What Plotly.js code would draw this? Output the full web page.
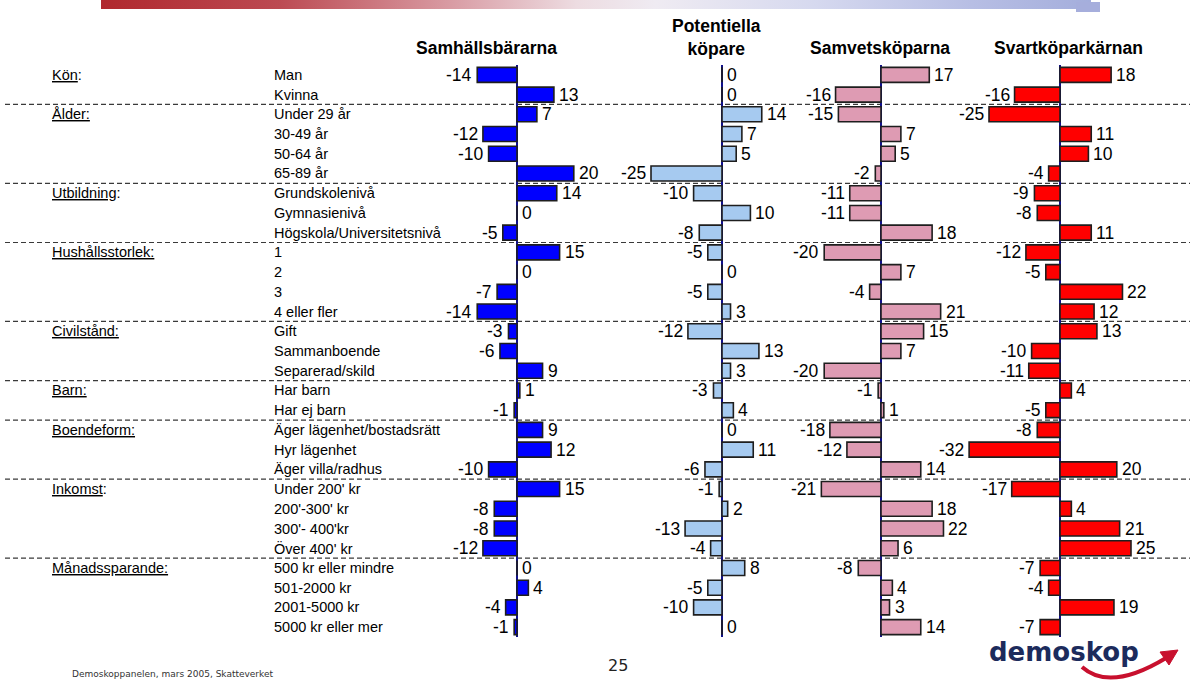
<!DOCTYPE html>
<html>
<head>
<meta charset="utf-8">
<script src="https://cdn.plot.ly/plotly-3.0.1.min.js"></script>
<style>
  html, body { margin:0; padding:0; background:#fff; }
  #wrap { position:relative; width:1190px; height:680px; overflow:hidden; }
  #chart { position:absolute; left:0; top:0; width:1190px; height:680px; }
  #band { position:absolute; left:101px; top:0; width:990px; height:9px;
    background:linear-gradient(to right,#B0282E 0%,#BC4A52 18%,#D89AA2 35%,#EDDCE1 48%,#EFEBF2 56%,#D6D9EF 72%,#B7BEE4 88%,#A4AEDC 100%); }
  #sq { position:absolute; left:1076px; top:2px; width:24px; height:10px; background:#A6AEDC; }
</style>
</head>
<body>
<div id="wrap">
  <div id="chart"></div>
  <div id="band"></div>
  <div id="sq"></div>
</div>
<script>
// ---- data ----
const categories = [
  "Man","Kvinna",
  "Under 29 år","30-49 år","50-64 år","65-89 år",
  "Grundskolenivå","Gymnasienivå","Högskola/Universitetsnivå",
  "1","2","3","4 eller fler",
  "Gift","Sammanboende","Separerad/skild",
  "Har barn","Har ej barn",
  "Äger lägenhet/bostadsrätt","Hyr lägenhet","Äger villa/radhus",
  "Under 200' kr","200'-300' kr","300'- 400'kr","Över 400' kr",
  "500 kr eller mindre","501-2000 kr","2001-5000 kr","5000 kr eller mer"
];
const groupLabels = ["<u>Kön</u>:","<u>Ålder:</u>","<u>Utbildning</u>:","<u>Hushållsstorlek:</u>","<u>Civilstånd:</u>","<u>Barn:</u>","<u>Boendeform:</u>","<u>Inkomst</u>:","<u>Månadssparande:</u>"];
const groupSizes = [2,4,3,4,3,2,3,4,4];
const panelTitles = ["Samhällsbärarna","Potentiella<br>köpare","Samvetsköparna","Svartköparkärnan"];

const samhallsbararna  = [-14,13, 7,-12,-10,20, 14,0,-5, 15,0,-7,-14, -3,-6,9, 1,-1, 9,12,-10, 15,-8,-8,-12, 0,4,-4,-1];
const potentiella      = [0,0, 14,7,5,-25, -10,10,-8, -5,0,-5,3, -12,13,3, -3,4, 0,11,-6, -1,2,-13,-4, 8,-5,-10,0];
const samvetskoparna   = [17,-16, -15,7,5,-2, -11,-11,18, -20,7,-4,21, 15,7,-20, -1,1, -18,-12,14, -21,18,22,6, -8,4,3,14];
const svartkoparkarnan = [18,-16, -25,11,10,-4, -9,-8,11, -12,-5,22,12, 13,-10,-11, 4,-5, -8,-32,20, -17,4,21,25, -7,-4,19,-7];

const series = [samhallsbararna, potentiella, samvetskoparna, svartkoparkarnan];
const barColors = ["#0000FF","#A6CAF0","#DE9BB3","#FF0000"];

// ---- layout geometry ----
const W = 1190, H = 680, MT = 65, MB = 43;
const px = x => x / W;
const py = y => (H - MB - y) / (H - MT - MB);
const K = 2.84;                      // pixels per unit
const zeros = [517, 722, 881, 1060]; // pixel of zero line per panel
const ranges = [[-16,22],[-27,15],[-22,23],[-33,26]];
const titleX = [486, 716, 880, 1068];

const FONT = "Liberation Sans, Arial, sans-serif";
const idx = categories.map((_, i) => i);

const traces = [];
const layout = {
  width: W, height: H,
  margin: {l:0, r:0, t:MT, b:MB, pad:0},
  paper_bgcolor: "#ffffff", plot_bgcolor: "rgba(0,0,0,0)",
  showlegend: false, barmode: "overlay",
  font: {family: FONT, color: "#000"},
  yaxis: {range: [categories.length - 0.5, -0.5], showticklabels: false, showgrid: false,
          zeroline: false, showline: false, ticks: "", domain: [0,1], fixedrange: true},
  annotations: [], shapes: []
};

series.forEach((vals, p) => {
  const xa = p === 0 ? "x" : "x" + (p + 1);
  const key = p === 0 ? "xaxis" : "xaxis" + (p + 1);
  const [lo, hi] = ranges[p];
  layout[key] = {
    domain: [px(zeros[p] + lo * K), px(zeros[p] + hi * K)],
    range: [lo, hi], anchor: "y",
    showgrid: false, showticklabels: false, ticks: "", showline: false,
    zeroline: true, zerolinecolor: "#10108A", zerolinewidth: 2, fixedrange: true
  };
  traces.push({
    type: "bar", orientation: "h", x: vals, y: idx, xaxis: xa, yaxis: "y",
    width: 0.76, cliponaxis: false, hoverinfo: "skip",
    marker: {color: barColors[p], line: {color: "#1e1e1e", width: 1.6}}
  });
  // value labels just beyond the bar ends
  vals.forEach((v, i) => {
    layout.annotations.push({
      xref: xa, yref: "y", x: v, y: i,
      xanchor: v < 0 ? "right" : "left", yanchor: "middle",
      xshift: v < 0 ? -3 : 3, showarrow: false, text: String(v),
      font: {family: FONT, size: 17.5, color: "#000"}
    });
  });
  layout.annotations.push({
    xref: "paper", yref: "paper", x: px(titleX[p]), y: py(p === 1 ? 37 : 48),
    xanchor: "center", yanchor: "middle", showarrow: false,
    text: "<b>" + panelTitles[p] + "</b>",
    font: {family: FONT, size: 17.5, color: "#000"}
  });
});

// category labels
categories.forEach((c, i) => {
  layout.annotations.push({
    xref: "paper", yref: "y", x: px(272), y: i, xanchor: "left", yanchor: "middle",
    showarrow: false, text: c, font: {family: FONT, size: 14.5, color: "#000"}
  });
});

// group labels + dashed separators
let start = 0;
groupSizes.forEach((n, g) => {
  layout.annotations.push({
    xref: "paper", yref: "y", x: px(50), y: start, xanchor: "left", yanchor: "middle",
    showarrow: false, text: groupLabels[g], font: {family: FONT, size: 14.5, color: "#000"}
  });
  if (g > 0) {
    layout.shapes.push({
      type: "line", xref: "paper", yref: "y", x0: px(5), x1: 1, y0: start - 0.5, y1: start - 0.5,
      layer: "below", line: {color: "#3a3a3a", width: 1.2, dash: "5px,3px"}
    });
  }
  start += n;
});

// footer
layout.annotations.push({
  xref: "paper", yref: "paper", x: px(70), y: py(674), xanchor: "left", yanchor: "middle",
  showarrow: false, text: "Demoskoppanelen, mars 2005, Skatteverket",
  font: {family: "DejaVu Sans, Verdana, sans-serif", size: 9, color: "#333"}
});
layout.annotations.push({
  xref: "paper", yref: "paper", x: px(618), y: py(665), xanchor: "center", yanchor: "middle",
  showarrow: false, text: "25", font: {family: "DejaVu Sans, Verdana, sans-serif", size: 16, color: "#222"}
});
// logo
layout.annotations.push({
  xref: "paper", yref: "paper", x: px(1064), y: py(652), xanchor: "center", yanchor: "middle",
  showarrow: false, text: "<b>demoskop</b>",
  font: {family: "DejaVu Sans, Verdana, sans-serif", size: 26, color: "#1C2B5C"}
});
layout.shapes.push({
  type: "path", xref: "paper", yref: "paper",
  path: `M ${px(1082)} ${py(667)} Q ${px(1110)} ${py(692)} ${px(1166)} ${py(658)}`,
  line: {color: "#C8102E", width: 4}
});
layout.shapes.push({
  type: "path", xref: "paper", yref: "paper",
  path: `M ${px(1178)} ${py(650)} L ${px(1169)} ${py(665)} L ${px(1160)} ${py(652)} Z`,
  fillcolor: "#C8102E", line: {color: "#C8102E", width: 1}
});

Plotly.newPlot("chart", traces, layout, {staticPlot: true, displayModeBar: false});
</script>
</body>
</html>
